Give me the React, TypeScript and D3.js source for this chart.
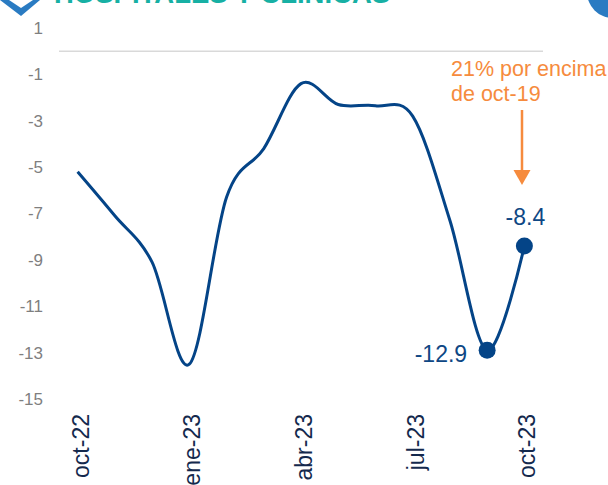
import React from "react";
import * as d3 from "d3";

const months = ["oct-22","nov-22","dic-22","ene-23","feb-23","mar-23","abr-23","may-23","jun-23","jul-23","ago-23","sep-23","oct-23"];
const values = [-5.2, -7.1, -9.1, -13.5, -6.3, -4.2, -1.4, -2.3, -2.35, -2.8, -7.3, -12.9, -8.4];
const shownLabels = ["oct-22","ene-23","abr-23","jul-23","oct-23"];
const yTicks = [1, -1, -3, -5, -7, -9, -11, -13, -15];
const markedIdx = [11, 12];
const title = "HOSPITALES Y CLÍNICAS";
const noteLines = ["21% por encima", "de oct-19"];

const W = 608, H = 485;
const FONT = "Arial, 'Liberation Sans', sans-serif";

export default function App() {
  const x = d3.scalePoint<string>().domain(months).range([59, 543]).padding(0.5);
  const y = d3.scaleLinear().domain([-15, 1]).range([399, 28]);
  const line = d3.line<number>()
    .x((_, i) => x(months[i]) as number)
    .y(d => y(d))
    .curve(d3.curveCardinal.tension(0));
  const lineColor = "#044487";
  const orange = "#f68b3d";
  const lastX = x(months[12]) as number;
  return (
    <div style={{ position: "fixed", left: 0, top: 0 }}>
      <svg width={W} height={H} style={{ display: "block", background: "#fff" }} fontFamily={FONT}>
        {/* header fragments */}
        <path d="M0,0 L9,0 L21,8 L33,0 L40,0 L21,16 Z" fill="#2a7bc2" />
        <circle cx={613} cy={-8} r={26} fill="#2a7bc2" />
        <text x={54} y={3} fontSize={27.5} fontWeight="bold" fill="#17b0a4">{title}</text>

        {/* y tick labels */}
        {yTicks.map(t => (
          <text key={t} x={43} y={y(t)} dy="0.35em" textAnchor="end" fontSize={17} fill="#7f7f7f">{t}</text>
        ))}
        {/* zero axis line */}
        <line x1={59} x2={543} y1={y(0)} y2={y(0)} stroke="#d9d9d9" strokeWidth={1.5} />

        {/* category labels */}
        {shownLabels.map(m => {
          const cx = (x(m) as number) + 3;
          return (
            <text key={m} transform={`translate(${cx},414) rotate(-90)`} dy="0.35em" textAnchor="end" fontSize={23} fill="#14294d">{m}</text>
          );
        })}

        {/* line */}
        <path d={line(values) || ""} fill="none" stroke={lineColor} strokeWidth={3} />
        {markedIdx.map(i => (
          <circle key={i} cx={x(months[i]) as number} cy={y(values[i])} r={8.5} fill={lineColor} />
        ))}
        <text x={(x(months[11]) as number) - 20} y={y(values[11]) + 12} textAnchor="end" fontSize={23} fill="#0e4784">{values[11].toFixed(1)}</text>
        <text x={lastX + 1} y={225} textAnchor="middle" fontSize={23} fill="#0e4784">{values[12].toFixed(1)}</text>

        {/* annotation */}
        {noteLines.map((t, i) => (
          <text key={t} x={451} y={76 + i * 24.5} fontSize={21.5} fill={orange}>{t}</text>
        ))}
        <line x1={522} x2={522} y1={110} y2={172} stroke={orange} strokeWidth={2.5} />
        <path d={`M513.5,170 L530.5,170 L522,185 Z`} fill={orange} />
      </svg>
    </div>
  );
}
